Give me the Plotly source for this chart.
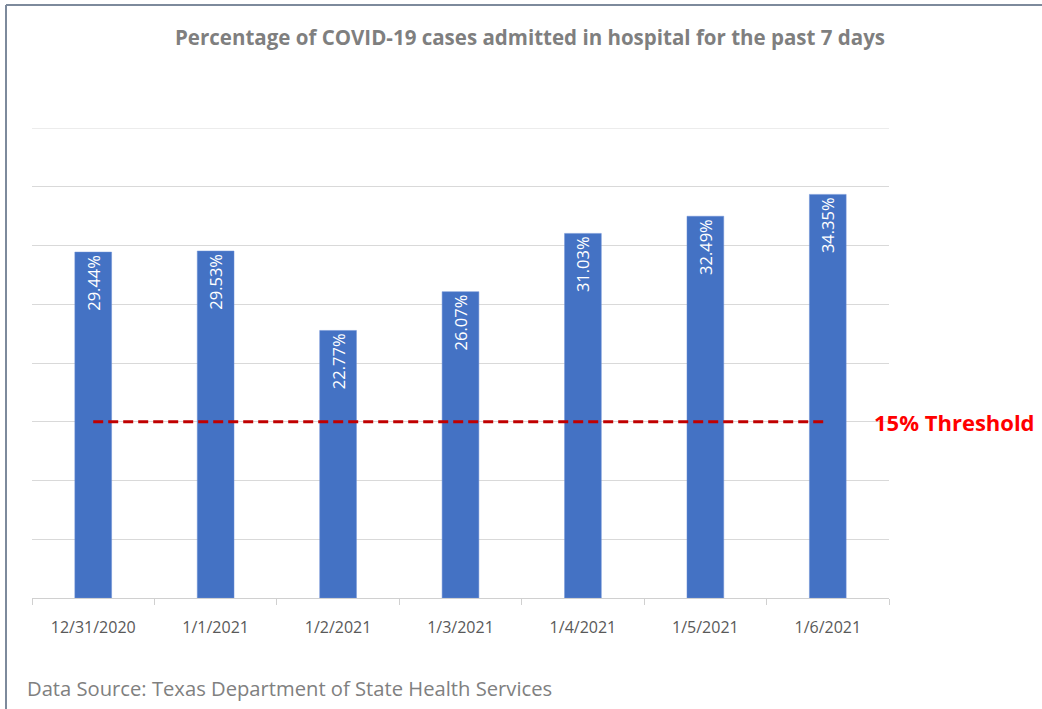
import plotly.graph_objects as go

dates = ["12/31/2020", "1/1/2021", "1/2/2021", "1/3/2021", "1/4/2021", "1/5/2021", "1/6/2021"]
pct = [29.44, 29.53, 22.77, 26.07, 31.03, 32.49, 34.35]
threshold = [15] * len(dates)
labels = [f"{v:.2f}%" for v in pct]

title_text = "Percentage of COVID-19 cases admitted in hospital for the past 7 days"
source_text = "Data Source: Texas Department of State Health Services"
threshold_text = "15% Threshold"

W, H = 1042, 709
L, R, T, B = 32, 153, 128, 111
pw, ph = W - L - R, H - T - B

def px(x):
    return (x - L) / pw

def py(y):
    return (H - B - y) / ph

fig = go.Figure()
fig.add_trace(go.Bar(
    x=dates, y=pct, text=labels, textposition="inside", insidetextanchor="end",
    textangle=-90, textfont=dict(color="white", size=16.5, family="Open Sans", weight=500),
    marker=dict(color="#4472C4", line=dict(color="#6a8fd4", width=0.5)),
    cliponaxis=False, hoverinfo="skip",
))
fig.add_trace(go.Scatter(
    x=dates, y=threshold, mode="lines",
    line=dict(color="#C00000", width=3, dash="10px,5px"), hoverinfo="skip",
))

fig.update_layout(
    width=W, height=H, margin=dict(l=L, r=R, t=T, b=B),
    paper_bgcolor="white", plot_bgcolor="white", showlegend=False,
    bargap=0.7,
    font=dict(family="Open Sans"),
    xaxis=dict(showgrid=False, showline=True, linecolor="#d0d0d0", linewidth=1,
               ticks="outside", tickson="boundaries", ticklen=6, tickcolor="#d0d0d0",
               ticklabelstandoff=15,
               tickfont=dict(size=16, color="#595959"), zeroline=False),
    yaxis=dict(range=[0, 40], dtick=5, showgrid=True, gridcolor="#d9d9d9", gridwidth=1,
               showticklabels=False, zeroline=False, showline=False),
)

# top gridline at 40 (edge of the plot area)
fig.add_shape(type="line", xref="paper", yref="y", x0=0, x1=1, y0=40, y1=40,
              line=dict(color="#d9d9d9", width=1), layer="below")

fig.add_annotation(text=title_text, xref="paper", yref="paper", x=px(530), y=py(37),
                   showarrow=False, xanchor="center", yanchor="middle",
                   font=dict(size=20.5, color="#7f7f7f", family="Open Sans", weight="bold"))
fig.add_annotation(text=source_text, xref="paper", yref="paper", x=px(25), y=py(688),
                   showarrow=False, xanchor="left", yanchor="middle",
                   font=dict(size=20.2, color="#808080", family="Open Sans"))
fig.add_annotation(text=threshold_text, xref="paper", y=15, yref="y", x=px(872),
                   showarrow=False, xanchor="left", yanchor="middle",
                   font=dict(size=22, color="#FF0000", family="Open Sans", weight="bold"))

border = "#7d8a9c"
fig.add_shape(type="line", xref="paper", yref="paper", x0=px(6), x1=px(1042), y0=py(5), y1=py(5),
              line=dict(color=border, width=2))
fig.add_shape(type="line", xref="paper", yref="paper", x0=px(6), x1=px(6), y0=py(5), y1=py(709),
              line=dict(color=border, width=2))

fig.write_html("out.html", config={"displayModeBar": False},
               post_script="document.body.style.margin='0';document.body.style.overflow='hidden';")
